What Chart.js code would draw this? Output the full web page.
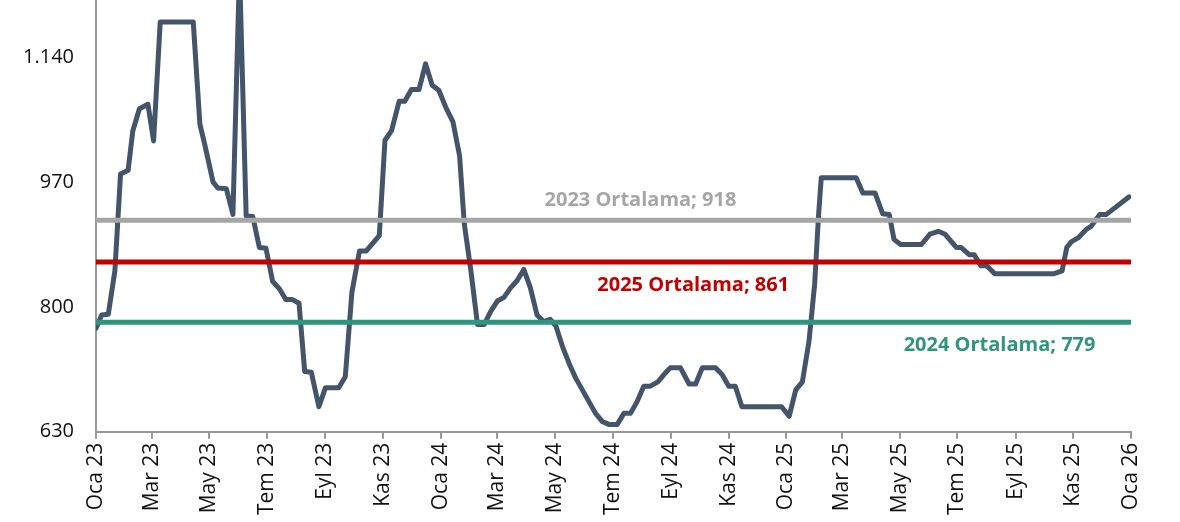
<!DOCTYPE html>
<html lang="tr">
<head>
<meta charset="utf-8">
<title>Ortalama</title>
<script src="https://cdn.jsdelivr.net/npm/chart.js@4.4.1/dist/chart.umd.min.js"></script>
<style>
    html, body { margin: 0; padding: 0; background: #fff; }
    #wrap { width: 1180px; height: 522px; position: relative; }
</style>
</head>
<body>
<div id="wrap"><canvas id="priceChart"></canvas></div>
<script>
// price series (week-ish steps)
const dates = [
    '2023-01-01', '2023-01-07', '2023-01-14', '2023-01-21', '2023-01-27', '2023-02-04', '2023-02-09',
    '2023-02-16', '2023-02-25', '2023-03-03', '2023-03-10', '2023-04-14', '2023-04-21', '2023-04-26',
    '2023-05-05', '2023-05-10', '2023-05-19', '2023-05-26', '2023-06-02', '2023-06-09', '2023-06-16',
    '2023-06-23', '2023-06-30', '2023-07-07', '2023-07-14', '2023-07-21', '2023-07-28', '2023-08-04',
    '2023-08-10', '2023-08-17', '2023-08-25', '2023-09-01', '2023-09-15', '2023-09-22', '2023-09-29',
    '2023-10-07', '2023-10-14', '2023-10-28', '2023-11-03', '2023-11-10', '2023-11-18', '2023-11-24',
    '2023-12-01', '2023-12-09', '2023-12-16', '2023-12-23', '2023-12-30', '2024-01-07', '2024-01-14',
    '2024-01-21', '2024-01-26', '2024-02-02', '2024-02-09', '2024-02-16', '2024-02-23', '2024-03-01',
    '2024-03-08', '2024-03-15', '2024-03-22', '2024-03-29', '2024-04-05', '2024-04-12', '2024-04-19',
    '2024-04-26', '2024-05-02', '2024-05-09', '2024-05-16', '2024-05-23', '2024-05-30', '2024-06-06',
    '2024-06-13', '2024-06-20', '2024-06-27', '2024-07-06', '2024-07-13', '2024-07-20', '2024-07-27',
    '2024-08-03', '2024-08-10', '2024-08-18', '2024-08-26', '2024-08-31', '2024-09-11', '2024-09-20',
    '2024-09-27', '2024-10-04', '2024-10-18', '2024-10-25', '2024-11-01', '2024-11-08', '2024-11-15',
    '2024-12-27', '2025-01-04', '2025-01-11', '2025-01-18', '2025-01-25', '2025-01-31', '2025-02-04',
    '2025-02-07', '2025-03-16', '2025-03-23', '2025-04-05', '2025-04-13', '2025-04-20', '2025-04-25',
    '2025-05-02', '2025-05-24', '2025-06-02', '2025-06-11', '2025-06-18', '2025-06-30', '2025-07-05',
    '2025-07-14', '2025-07-19', '2025-07-26', '2025-08-01', '2025-08-10', '2025-10-11', '2025-10-20',
    '2025-10-25', '2025-10-30', '2025-11-06', '2025-11-15', '2025-11-20', '2025-11-29', '2025-12-06',
    '2025-12-30'
];
const prices = [
    771, 789, 790, 849, 981, 986, 1040,
    1070, 1076, 1026, 1188, 1188, 1049, 1022,
    970, 962, 961, 926, 1260, 924, 923,
    881, 880, 835, 825, 810, 810, 805,
    712, 711, 664, 690, 690, 705, 820,
    876, 876, 897, 1027, 1040, 1080, 1080,
    1096, 1096, 1131, 1102, 1095, 1070, 1052,
    1006, 913, 849, 776, 776, 794, 808,
    813, 826, 836, 851, 826, 789, 780,
    783, 774, 746, 723, 703, 687, 671,
    655, 644, 640, 640, 655, 655, 671,
    692, 692, 698, 710, 717, 717, 695,
    695, 717, 717, 708, 692, 692, 664,
    664, 651, 687, 698, 753, 831, 922,
    976, 976, 955, 955, 927, 926, 892,
    885, 885, 899, 903, 899, 881, 881,
    871, 871, 856, 856, 845, 845, 849,
    881, 889, 894, 906, 910, 926, 926,
    950
];

// yearly averages
const avgLabels = ['2023 Ortalama', '2025 Ortalama', '2024 Ortalama'];
const avgValues = [918, 861, 779];
const avgColors = ['#A6A6A6', '#C00000', '#2F957F'];

// x axis ticks
const tickDates = [
    '2023-01-01', '2023-03-01', '2023-05-01', '2023-07-01', '2023-09-01', '2023-11-01',
    '2024-01-01', '2024-03-01', '2024-05-01', '2024-07-01', '2024-09-01', '2024-11-01',
    '2025-01-01', '2025-03-01', '2025-05-01', '2025-07-01', '2025-09-01', '2025-11-01',
    '2026-01-01'
];
const tickLabels = [
    'Oca 23', 'Mar 23', 'May 23', 'Tem 23', 'Eyl 23', 'Kas 23',
    'Oca 24', 'Mar 24', 'May 24', 'Tem 24', 'Eyl 24', 'Kas 24',
    'Oca 25', 'Mar 25', 'May 25', 'Tem 25', 'Eyl 25', 'Kas 25',
    'Oca 26'
];
const yTicks = [630, 800, 970, 1140];

const START = Date.UTC(2023, 0, 1);
function dayOf(s) {
    const p = s.split('-').map(Number);
    return (Date.UTC(p[0], p[1] - 1, p[2]) - START) / 86400000;
}
const xMax = dayOf('2026-01-01');

const FONT = "'Open Sans', 'DejaVu Sans', sans-serif";

// label positions along the chart width and offset from the line
const labelPos = [
    { fx: 0.526, dy: -20 },
    { fx: 0.577, dy: 23 },
    { fx: 0.873, dy: 23 }
];

const avgText = {
    id: 'avgText',
    afterDatasetsDraw(chart) {
        const ctx = chart.ctx;
        const area = chart.chartArea;
        const y = chart.scales.y;
        ctx.save();
        ctx.font = 'bold 20px ' + FONT;
        ctx.textAlign = 'center';
        ctx.textBaseline = 'middle';
        avgValues.forEach(function (v, i) {
            ctx.fillStyle = avgColors[i];
            const px = area.left + labelPos[i].fx * (area.right - area.left);
            ctx.fillText(avgLabels[i] + '; ' + v, px, y.getPixelForValue(v) + labelPos[i].dy);
        });
        ctx.restore();
    }
};

const datasets = avgValues.map(function (v, i) {
    return {
        label: avgLabels[i],
        data: [{ x: 0, y: v }, { x: xMax, y: v }],
        borderColor: avgColors[i],
        borderWidth: 5,
        borderCapStyle: 'round',
        pointRadius: 0
    };
});
datasets.push({
    label: 'Fiyat',
    data: dates.map(function (d, i) { return { x: dayOf(d), y: prices[i] }; }),
    borderColor: '#44546A',
    borderWidth: 5,
    borderJoinStyle: 'round',
    borderCapStyle: 'round',
    pointRadius: 0,
    tension: 0
});

new Chart(document.getElementById('priceChart'), {
    type: 'line',
    data: { datasets: datasets },
    options: {
        responsive: true,
        maintainAspectRatio: false,
        animation: false,
        layout: { padding: { top: 0, right: 49, bottom: 3, left: 1 } },
        plugins: {
            legend: { display: false },
            tooltip: { enabled: false }
        },
        scales: {
            x: {
                type: 'linear',
                min: 0,
                max: xMax,
                afterBuildTicks: function (axis) {
                    axis.ticks = tickDates.map(function (d) { return { value: dayOf(d) }; });
                },
                grid: { drawOnChartArea: false, drawTicks: true, tickLength: 7, color: '#989898', lineWidth: 2 },
                border: { display: true, color: '#989898', width: 2 },
                ticks: {
                    autoSkip: false,
                    minRotation: 90,
                    maxRotation: 90,
                    padding: 4,
                    color: '#111',
                    font: { family: FONT, size: 21 },
                    callback: function (value, index) { return tickLabels[index]; }
                }
            },
            y: {
                min: 630,
                max: 1218,
                afterBuildTicks: function (axis) {
                    axis.ticks = yTicks.map(function (v) { return { value: v }; });
                },
                afterFit: function (axis) {
                    // the top tick is well below the edge, no need to reserve room for it
                    axis.paddingTop = 0;
                },
                grid: { drawOnChartArea: false, drawTicks: false },
                border: { display: true, color: '#989898', width: 2 },
                ticks: {
                    padding: 22,
                    color: '#111',
                    font: { family: FONT, size: 20 },
                    callback: function (value) { return value.toLocaleString('tr-TR'); }
                }
            }
        }
    },
    plugins: [avgText]
});
</script>
</body>
</html>
